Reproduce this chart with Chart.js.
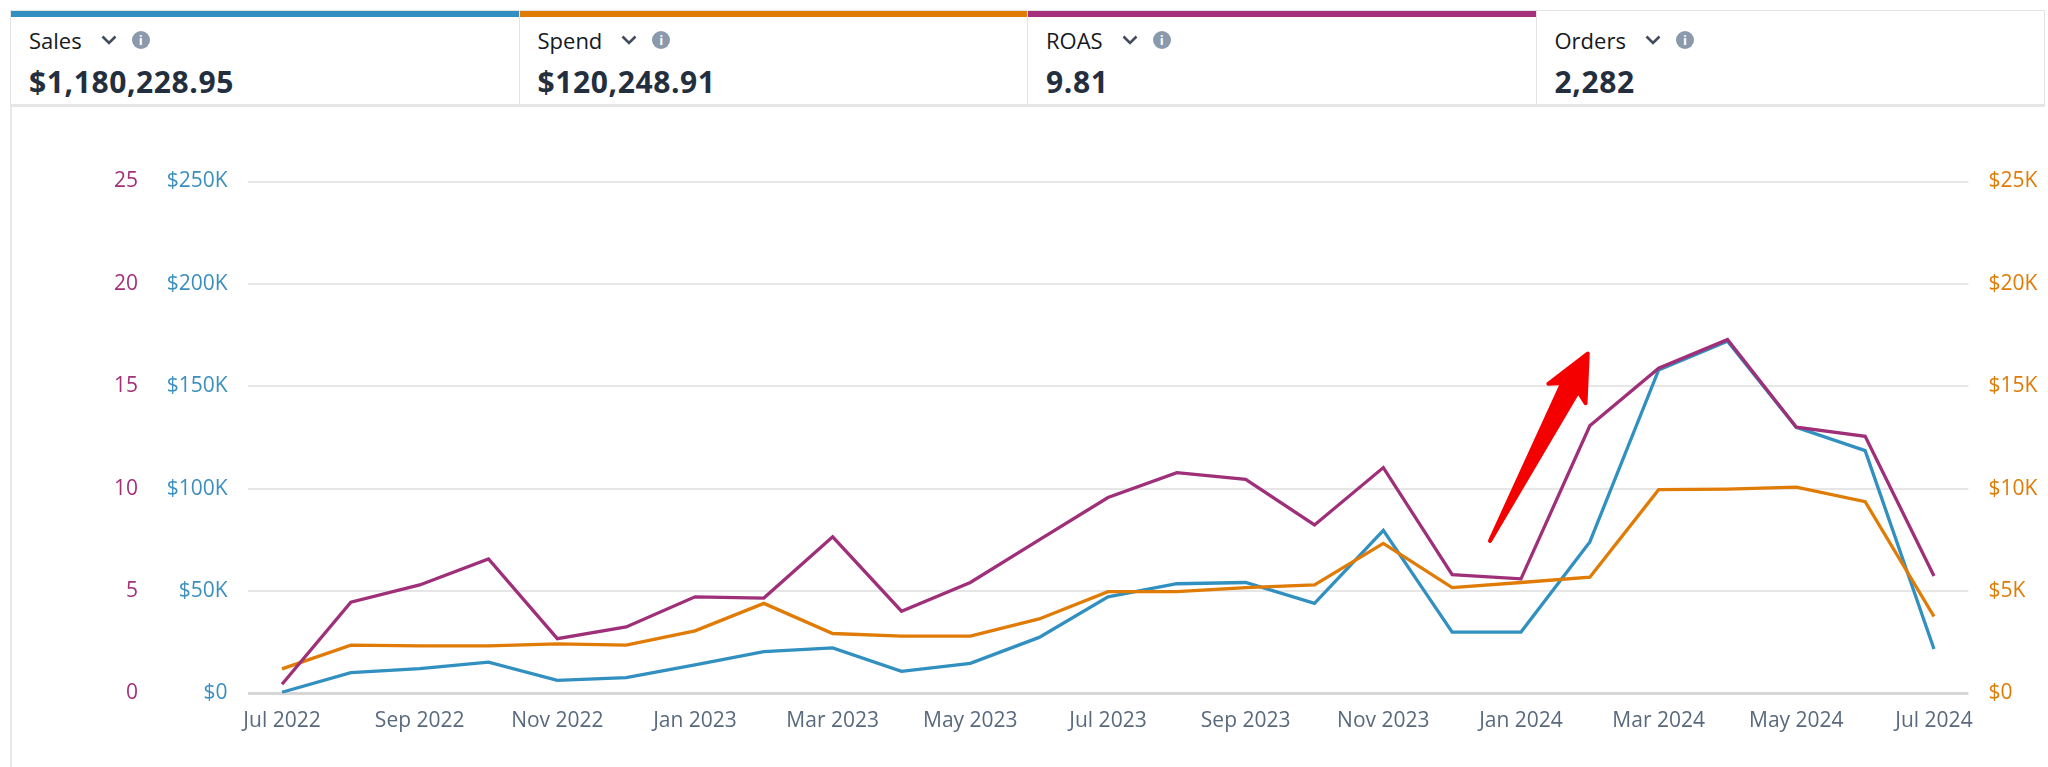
<!DOCTYPE html>
<html>
<head>
<meta charset="utf-8">
<script src="https://cdn.jsdelivr.net/npm/chart.js@4"></script>
<style>
  body { margin: 0; background: #fff; font-family: "Open Sans", sans-serif; }
  #wrap { position: relative; width: 2048px; height: 767px; overflow: hidden; }
  #chart { position: absolute; left: 0; top: 0; }
  #frame { position: absolute; left: 10px; top: 10px; width: 2035px; height: 757px; border-left: 2px solid #e8e8e8; box-sizing: border-box; }
  #cards { position: absolute; left: 10px; top: 10px; width: 2035px; height: 97px; display: flex; border: 1px solid #e3e3e3; border-bottom: 3px solid #e6e6e6; border-top: none; background: #fff; box-sizing: border-box; }
  .card { position: relative; flex: 1; border-right: 1px solid #e3e3e3; border-top: 1px solid #e3e3e3; }
  .card:last-child { border-right: none; }
  .card .bar { position: absolute; left: 0; right: 0; top: 0; height: 6px; }
  .card .name { position: absolute; left: 18px; top: 14px; font-size: 22px; color: #16191f; display: flex; align-items: center; }
  .card .name svg { margin-left: 19px; }
  .card .info { display: inline-block; width: 18px; height: 18px; border-radius: 9px; background: #8a99ab; color: #fff; font-size: 13px; font-weight: bold; text-align: center; line-height: 18px; margin-left: 15px; }
  .card .val { position: absolute; left: 18px; top: 53px; font-size: 30px; font-weight: bold; color: #232f3e; letter-spacing: 0.6px; line-height: 36px; }
</style>
</head>
<body>
<div id="wrap">
  <canvas id="chart" width="2048" height="767"></canvas>
  <div id="frame"></div>
  <div id="cards"></div>
</div>
<script>
// monthly values
var months = ['Jul 2022', 'Aug 2022', 'Sep 2022', 'Oct 2022', 'Nov 2022', 'Dec 2022',
  'Jan 2023', 'Feb 2023', 'Mar 2023', 'Apr 2023', 'May 2023', 'Jun 2023',
  'Jul 2023', 'Aug 2023', 'Sep 2023', 'Oct 2023', 'Nov 2023', 'Dec 2023',
  'Jan 2024', 'Feb 2024', 'Mar 2024', 'Apr 2024', 'May 2024', 'Jun 2024', 'Jul 2024'];
var sales = [600, 10200, 12100, 15300, 6400, 7700, 14000, 20400, 22300, 10800, 14700, 27400,
  47200, 53600, 54200, 44000, 79700, 30000, 30000, 74000, 158000, 172000, 130000, 118600, 21700];
var spend = [1200, 2360, 2330, 2330, 2420, 2360, 3060, 4400, 2930, 2800, 2800, 3640,
  4970, 4970, 5170, 5300, 7330, 5170, 5420, 5680, 9950, 9980, 10080, 9370, 3760];
var roas = [0.45, 4.46, 5.3, 6.57, 2.68, 3.25, 4.72, 4.66, 7.65, 4.02, 5.42, 7.5,
  9.57, 10.78, 10.46, 8.23, 11.03, 5.8, 5.6, 13.07, 15.88, 17.28, 13.0, 12.56, 5.74];

// summary cards
var cardNames = ['Sales', 'Spend', 'ROAS', 'Orders'];
var cardValues = ['$1,180,228.95', '$120,248.91', '9.81', '2,282'];

// axis ticks
var roasTicks = [0, 5, 10, 15, 20, 25];
var salesTicks = [0, 50000, 100000, 150000, 200000, 250000];
var spendTicks = [0, 5000, 10000, 15000, 20000, 25000];

// hand-drawn arrow, in month index / ROAS units
var arrowFrom = [17.55, 7.45];
var arrowTo = [18.97, 16.6];

var BLUE = '#3190c0', ORANGE = '#e07b05', PURPLE = '#9e2f78';
var cardColors = [BLUE, ORANGE, '#a5317c', null];

var cardsEl = document.getElementById('cards');
cardNames.forEach(function (n, i) {
    var c = document.createElement('div');
    c.className = 'card';
    c.innerHTML = (cardColors[i] ? '<div class="bar" style="background:' + cardColors[i] + '"></div>' : '') +
        '<div class="name">' + n +
        '<svg width="16" height="10" viewBox="0 0 16 10"><path d="M1.5 1.5 L8 8 L14.5 1.5" stroke="#414d5c" stroke-width="2.6" fill="none"/></svg>' +
        '<span class="info">i</span></div>' +
        '<div class="val">' + cardValues[i] + '</div>';
    cardsEl.appendChild(c);
});

function money(v) {
    return v === 0 ? '$0' : '$' + (v / 1000) + 'K';
}

var arrowPlugin = {
    id: 'arrow',
    afterDatasetsDraw: function (chart) {
        var x = chart.scales.x, y = chart.scales.roas, ctx = chart.ctx;
        var x0 = x.getPixelForValue(arrowFrom[0]), y0 = y.getPixelForValue(arrowFrom[1]);
        var x1 = x.getPixelForValue(arrowTo[0]), y1 = y.getPixelForValue(arrowTo[1]);
        var L = Math.hypot(x1 - x0, y1 - y0);
        ctx.save();
        ctx.translate(x0, y0);
        ctx.rotate(Math.atan2(y1 - y0, x1 - x0));
        ctx.beginPath();
        ctx.moveTo(0, 0);
        ctx.lineTo(L - 38, -9);
        ctx.lineTo(L - 45, -21);
        ctx.lineTo(L, 0);
        ctx.lineTo(L - 45, 21);
        ctx.lineTo(L - 38, 9);
        ctx.closePath();
        ctx.fillStyle = '#f50000';
        ctx.strokeStyle = '#f50000';
        ctx.lineJoin = 'round';
        ctx.lineWidth = 4;
        ctx.fill();
        ctx.stroke();
        ctx.restore();
    }
};

var ctx = document.getElementById('chart').getContext('2d');
var myChart = new Chart(ctx, {
    type: 'line',
    data: {
        labels: months,
        datasets: [
            { label: 'Sales', data: sales, yAxisID: 'sales', borderColor: BLUE, order: 3 },
            { label: 'Spend', data: spend, yAxisID: 'spend', borderColor: ORANGE, order: 2 },
            { label: 'ROAS', data: roas, yAxisID: 'roas', borderColor: PURPLE, order: 1 }
        ]
    },
    options: {
        responsive: false,
        animation: false,
        events: [],
        layout: { padding: { top: 181.5, bottom: 23.5, left: 0, right: 0 } },
        elements: {
            line: { borderWidth: 3.3, tension: 0, fill: false },
            point: { radius: 0 }
        },
        plugins: { legend: { display: false }, tooltip: { enabled: false } },
        scales: {
            x: {
                offset: true,
                grid: { display: false, drawTicks: false },
                border: { display: false },
                afterFit: function (s) { s.height = 50; },
                ticks: {
                    autoSkip: false, maxRotation: 0, padding: 15,
                    color: '#596a7d', font: { family: 'Open Sans', size: 21 },
                    callback: function (v, i) { return i % 2 === 0 ? months[i] : ''; }
                }
            },
            sales: {
                position: 'left', weight: 0, min: 0, max: 250000,
                afterFit: function (s) { s.width = 97.6; },
                afterBuildTicks: function (s) { s.ticks = salesTicks.map(function (v) { return { value: v }; }); },
                grid: {
                    drawTicks: false,
                    color: function (c) { return c.tick && c.tick.value === 0 ? '#d6d6d6' : '#e6e6e6'; },
                    lineWidth: function (c) { return c.tick && c.tick.value === 0 ? 3 : 2; }
                },
                border: { display: false },
                ticks: { padding: 20, color: '#3a8fbf', font: { family: 'Open Sans', size: 21 }, callback: money }
            },
            roas: {
                position: 'left', weight: 1, min: 0, max: 25,
                afterFit: function (s) { s.width = 150; },
                afterBuildTicks: function (s) { s.ticks = roasTicks.map(function (v) { return { value: v }; }); },
                grid: { display: false, drawTicks: false },
                border: { display: false },
                ticks: { padding: 12, color: '#a3317a', font: { family: 'Open Sans', size: 21 } }
            },
            spend: {
                position: 'right', min: 0, max: 25000,
                afterFit: function (s) { s.width = 79.6; },
                afterBuildTicks: function (s) { s.ticks = spendTicks.map(function (v) { return { value: v }; }); },
                grid: { display: false, drawTicks: false },
                border: { display: false },
                ticks: { padding: 20, color: '#e07b05', font: { family: 'Open Sans', size: 21 }, callback: money }
            }
        }
    },
    plugins: [arrowPlugin]
});
</script>
</body>
</html>
